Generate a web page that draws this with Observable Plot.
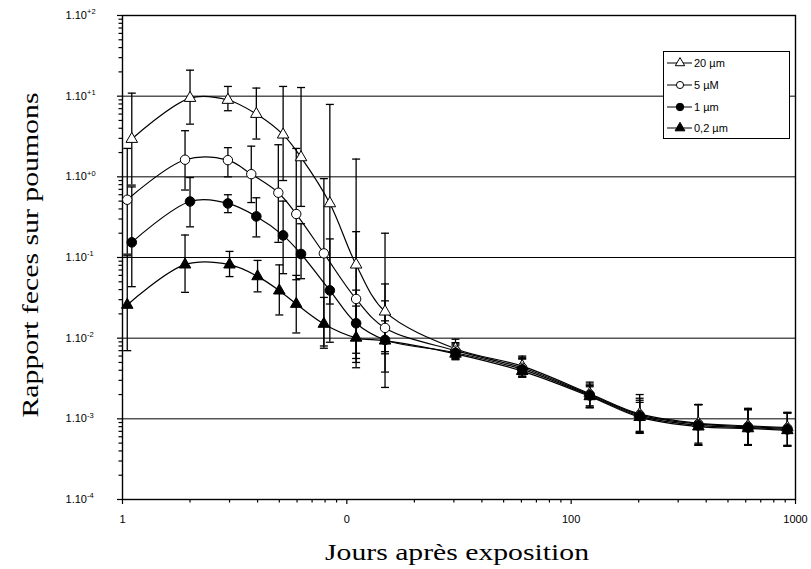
<!DOCTYPE html>
<html>
<head>
<meta charset="utf-8">
<script src="https://cdn.jsdelivr.net/npm/d3@7"></script>
<script src="https://cdn.jsdelivr.net/npm/@observablehq/plot@0.6"></script>
<style>body{margin:0;background:#fff}</style>
</head>
<body>
<div id="chart"></div>
<script>
// ---- Data ----
const seriesNames = ["20 µm", "5 µM", "1 µm", "0,2 µm"];

const days20 = [1.1, 2.0, 2.95, 3.95, 5.2, 6.25, 8.4, 11, 14.8, 30.5, 60.5, 121, 202, 369, 614, 920];
const days5  = [1.05, 1.9, 2.95, 3.75, 4.95, 5.95, 7.9, 11, 14.8, 30.5, 60.5, 121, 202, 369, 614, 920];
const days1  = [1.1, 2.0, 2.95, 3.95, 5.2, 6.25, 8.4, 11, 14.8, 30.5, 60.5, 121, 202, 369, 614, 920];
const days02 = [1.05, 1.9, 3.0, 4.0, 5.0, 5.95, 7.9, 11, 14.8, 30.5, 60.5, 121, 202, 369, 614, 920];

const v20 = [2.94, 9.47, 8.96, 6.0, 3.33, 1.74, 0.468, 0.0814, 0.0213, 0.0074, 0.0045, 0.00205, 0.00115, 0.00088, 0.00082, 0.00078];
const v5  = [0.52, 1.63, 1.61, 1.08, 0.635, 0.346, 0.1125, 0.0306, 0.0134, 0.0070, 0.0043, 0.0020, 0.00112, 0.00086, 0.0008, 0.00076];
const v1  = [0.154, 0.495, 0.468, 0.323, 0.188, 0.1105, 0.0391, 0.0153, 0.0095, 0.0066, 0.0041, 0.00195, 0.00108, 0.00083, 0.00078, 0.00074];
const v02 = [0.0258, 0.0815, 0.0815, 0.0583, 0.0388, 0.0265, 0.0150, 0.0101, 0.0093, 0.0064, 0.0039, 0.0019, 0.00105, 0.0008, 0.00076, 0.00072];

const lo20 = [0.79, 4.5, 6.6, 2.94, 0.9, 0.43, 0.0265, 0.0065, 0.0038, 0.0058, 0.0034, 0.00145, 0.0007, 0.0005, 0.00048, 0.00047];
const hi20 = [10.9, 21, 13.2, 12.6, 13.2, 12.8, 7.9, 1.66, 0.2, 0.0097, 0.006, 0.00285, 0.002, 0.00151, 0.00135, 0.0012];
const lo5  = [0.11, 0.686, 1.0, 0.48, 0.154, 0.053, 0.0075, 0.0056, 0.0068, 0.0056, 0.0033, 0.0014, 0.00068, 0.00048, 0.00047, 0.00046];
const hi5  = [2.25, 3.73, 2.3, 2.4, 2.5, 2.25, 0.95, 0.209, 0.047, 0.0088, 0.0058, 0.0027, 0.0018, 0.0015, 0.00132, 0.00118];
const lo1  = [0.0435, 0.24, 0.36, 0.18, 0.063, 0.0546, 0.0089, 0.005, 0.0064, 0.0055, 0.0033, 0.00138, 0.00067, 0.00047, 0.00047, 0.00046];
const hi1  = [0.75, 0.98, 0.6, 0.55, 0.5, 0.262, 0.17, 0.0394, 0.029, 0.0085, 0.0056, 0.0026, 0.0017, 0.0015, 0.0013, 0.00118];
const lo02 = [0.007, 0.037, 0.058, 0.0375, 0.0194, 0.0116, 0.008, 0.0043, 0.00245, 0.0054, 0.0033, 0.00137, 0.00066, 0.00047, 0.00047, 0.00046];
const hi02 = [0.105, 0.19, 0.119, 0.092, 0.081, 0.06, 0.032, 0.025, 0.0164, 0.0082, 0.0055, 0.0025, 0.0016, 0.0015, 0.0013, 0.0012];

const xTickValues = [1, 4, 10, 100, 1000];
const xTickLabels = ["1", "1", "0", "100", "1000"];
const yTickValues = [1e2, 1e1, 1, 1e-1, 1e-2, 1e-3, 1e-4];
const yTickBase = "1.10";
const yTickExponents = ["+2", "+1", "+0", "-1", "-2", "-3", "-4"];
const gridValues = [1e1, 1, 1e-1, 1e-2, 1e-3];
const xTitle = "Jours après exposition";
const yTitle = "Rapport feces sur poumons";

// ---- Build tidy table ----
function rows(name, days, vals, lo, hi) {
  return days.map((d, i) => ({series: name, day: d, value: vals[i], lo: lo[i], hi: hi[i]}));
}
const data = [
  ...rows(seriesNames[0], days20, v20, lo20, hi20),
  ...rows(seriesNames[1], days5, v5, lo5, hi5),
  ...rows(seriesNames[2], days1, v1, lo1, hi1),
  ...rows(seriesNames[3], days02, v02, lo02, hi02)
];
const bySeries = name => data.filter(d => d.series === name);

const xMajor = [1, 10, 100, 1000];
const xMinor = [];
for (const k of [1, 10, 100]) for (let m = 2; m <= 9; m++) xMinor.push(k * m);
const yMinor = [];
for (let e = -4; e < 2; e++) for (let m = 2; m <= 9; m++) yMinor.push(m * Math.pow(10, e));

const xLabelMap = new Map(xTickValues.map((v, i) => [v, xTickLabels[i]]));
const expMap = new Map(yTickValues.map((v, i) => [v, yTickExponents[i]]));

const cap = {draw(ctx) { ctx.moveTo(-4, 0); ctx.lineTo(4, 0); }};

const svg = Plot.plot({
  width: 811,
  height: 569,
  marginLeft: 122,
  marginRight: 16,
  marginTop: 15,
  marginBottom: 70,
  style: {fontFamily: "'Liberation Sans', Arial, sans-serif", fontSize: "11px", background: "white", color: "black"},
  x: {type: "log", domain: [1, 1000]},
  y: {type: "log", domain: [1e-4, 1e2]},
  marks: [
    Plot.ruleY(gridValues, {stroke: "black", strokeWidth: 1}),
    Plot.axisX({ticks: xMinor, tickSize: 3.5, tickFormat: () => "", label: null, strokeWidth: 1.2}),
    Plot.axisX({ticks: xMajor, tickSize: 5, tickFormat: () => "", label: null, strokeWidth: 1.2}),
    Plot.axisX({ticks: xTickValues, tickSize: 0, tickPadding: 16, tickFormat: d => xLabelMap.get(d), label: null, fontSize: 11}),
    Plot.axisY({ticks: yMinor, tickSize: 3.5, tickFormat: () => "", label: null, strokeWidth: 1.2}),
    Plot.axisY({ticks: yTickValues, tickSize: 5, tickFormat: () => "", label: null, strokeWidth: 1.2}),
    Plot.text(yTickValues, {y: d => d, text: () => yTickBase, frameAnchor: "left", textAnchor: "end", dx: -35.5, fontSize: 11}),
    Plot.text(yTickValues, {y: d => d, text: d => expMap.get(d), frameAnchor: "left", textAnchor: "start", dx: -35.5, dy: -3.5, fontSize: 7.5}),
    Plot.frame({stroke: "black", strokeWidth: 1.4}),
    Plot.ruleX(data, {x: "day", y1: "lo", y2: "hi", stroke: "black", strokeWidth: 1.3}),
    Plot.dot(data, {x: "day", y: "lo", symbol: cap, r: 4, fill: "none", stroke: "black", strokeWidth: 1.3}),
    Plot.dot(data, {x: "day", y: "hi", symbol: cap, r: 4, fill: "none", stroke: "black", strokeWidth: 1.3}),
    Plot.line(data, {x: "day", y: "value", z: "series", curve: "catmull-rom", stroke: "black", strokeWidth: 1.2}),
    Plot.dot(bySeries(seriesNames[0]), {x: "day", y: "value", symbol: "triangle", r: 4.3, fill: "white", stroke: "black", strokeWidth: 1}),
    Plot.dot(bySeries(seriesNames[1]), {x: "day", y: "value", symbol: "circle", r: 4.7, fill: "white", stroke: "black", strokeWidth: 1}),
    Plot.dot(bySeries(seriesNames[2]), {x: "day", y: "value", symbol: "circle", r: 4.8, fill: "black", stroke: "black", strokeWidth: 1}),
    Plot.dot(bySeries(seriesNames[3]), {x: "day", y: "value", symbol: "triangle", r: 4.3, fill: "black", stroke: "black", strokeWidth: 1})
  ]
});

// ---- Legend and axis titles ----
const s = d3.select(svg);
const lg = s.append("g");
lg.append("rect").attr("x", 663.5).attr("y", 51.5).attr("width", 126).attr("height", 87)
  .attr("fill", "white").attr("stroke", "black").attr("stroke-width", 1);
const legendYs = [63, 85, 107, 128];
const legendSym = [
  {type: d3.symbolTriangle, fill: "white", size: 38},
  {type: d3.symbolCircle, fill: "white", size: 40},
  {type: d3.symbolCircle, fill: "black", size: 44},
  {type: d3.symbolTriangle, fill: "black", size: 42}
];
seriesNames.forEach((name, i) => {
  const y = legendYs[i];
  lg.append("line").attr("x1", 667).attr("x2", 692).attr("y1", y).attr("y2", y)
    .attr("stroke", "black").attr("stroke-width", 1);
  lg.append("path").attr("d", d3.symbol().type(legendSym[i].type).size(legendSym[i].size)())
    .attr("transform", `translate(680,${y})`).attr("fill", legendSym[i].fill)
    .attr("stroke", "black").attr("stroke-width", 1);
  lg.append("text").attr("x", 694).attr("y", y).attr("dy", "0.35em").attr("text-anchor", "start")
    .attr("font-size", 11).attr("fill", "black").text(name);
});

s.append("text").attr("x", 457).attr("y", 560).attr("text-anchor", "middle")
  .attr("font-family", "'Liberation Serif', 'Times New Roman', serif").attr("font-size", 23)
  .attr("textLength", 264).attr("lengthAdjust", "spacingAndGlyphs").attr("fill", "black").text(xTitle);
s.append("text").attr("transform", "translate(38,255) rotate(-90)").attr("text-anchor", "middle")
  .attr("font-family", "'Liberation Serif', 'Times New Roman', serif").attr("font-size", 23)
  .attr("textLength", 325).attr("lengthAdjust", "spacingAndGlyphs").attr("fill", "black").text(yTitle);

document.getElementById("chart").appendChild(svg);
</script>
</body>
</html>
